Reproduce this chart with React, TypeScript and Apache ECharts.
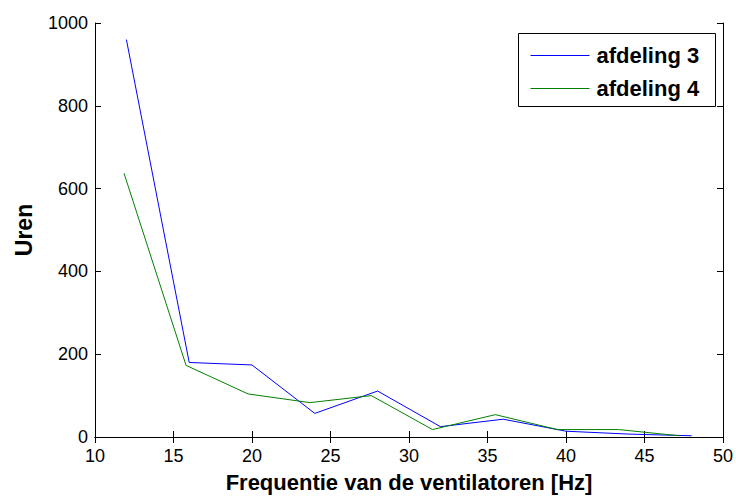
import React, { useEffect, useRef } from "react";
import * as echarts from "echarts";

const blueX = [12, 16, 20, 24, 28, 32, 36, 40, 44, 48];
const blueY = [960, 180, 174, 57, 111, 25, 43, 14, 7, 3];
const greenX = [11.85, 15.8, 19.75, 23.7, 27.6, 31.5, 35.5, 39.45, 43.35, 47.2];
const greenY = [637, 173, 104, 83, 100, 18, 54, 18, 18, 3];
const seriesNames = ["afdeling 3", "afdeling 4"];
const xTitle = "Frequentie van de ventilatoren [Hz]";
const yTitle = "Uren";

const FONT = "Arial, 'Liberation Sans', Helvetica, sans-serif";

export default function App() {
  const ref = useRef<HTMLDivElement>(null);
  useEffect(() => {
    const chart = echarts.init(ref.current!, null, { renderer: "svg" });
    const axisLine = { show: true, lineStyle: { color: "#000", width: 1 } };
    const axisTick = { show: true, inside: true, length: 6, lineStyle: { color: "#000" } };
    const blueData = blueX.map((x, i) => [x, blueY[i]]);
    const greenData = greenX.map((x, i) => [x, greenY[i]]);
    const plain = (v: number) => String(v);
    chart.setOption({
      animation: false,
      backgroundColor: "#fff",
      grid: { left: 95, top: 23, right: 12, bottom: 57, containLabel: false },
      xAxis: [
        {
          type: "value", min: 10, max: 50, interval: 5, position: "bottom",
          axisLine, axisTick, splitLine: { show: false },
          axisLabel: { color: "#000", fontSize: 18, fontFamily: FONT, margin: 10, formatter: plain },
          name: xTitle, nameLocation: "middle", nameGap: 34,
          nameTextStyle: { color: "#000", fontSize: 22, fontWeight: "bold", fontFamily: FONT },
        },
        {
          type: "value", min: 10, max: 50, interval: 5, position: "top",
          axisLine, axisTick, splitLine: { show: false }, axisLabel: { show: false },
        },
      ],
      yAxis: [
        {
          type: "value", min: 0, max: 1000, interval: 200, position: "left",
          axisLine, axisTick, splitLine: { show: false },
          axisLabel: { color: "#000", fontSize: 18, fontFamily: FONT, margin: 7, formatter: plain },
          name: yTitle, nameLocation: "middle", nameGap: 60,
          nameTextStyle: { color: "#000", fontSize: 23, fontWeight: "bold", fontFamily: FONT },
        },
        {
          type: "value", min: 0, max: 1000, interval: 200, position: "right",
          axisLine, axisTick, splitLine: { show: false }, axisLabel: { show: false },
        },
      ],
      series: [
        {
          name: seriesNames[0], type: "line", data: blueData, symbol: "none",
          lineStyle: { color: "#0000ff", width: 1 }, itemStyle: { color: "#0000ff" },
        },
        {
          name: seriesNames[1], type: "line", data: greenData, symbol: "none",
          lineStyle: { color: "#008000", width: 1 }, itemStyle: { color: "#008000" },
        },
      ],
      graphic: [
        {
          type: "group", left: 518, top: 33, z: 100,
          children: [
            { type: "rect", shape: { x: 0, y: 0, width: 197, height: 73 }, style: { fill: "#fff", stroke: "#000", lineWidth: 1 } },
            { type: "line", shape: { x1: 12, y1: 22, x2: 71, y2: 22 }, style: { stroke: "#0000ff", lineWidth: 1 } },
            { type: "line", shape: { x1: 12, y1: 55, x2: 71, y2: 55 }, style: { stroke: "#008000", lineWidth: 1 } },
            { type: "text", x: 78, y: 22, style: { text: seriesNames[0], fill: "#000", font: `bold 22px ${FONT}`, verticalAlign: "middle" } },
            { type: "text", x: 78, y: 55, style: { text: seriesNames[1], fill: "#000", font: `bold 22px ${FONT}`, verticalAlign: "middle" } },
          ],
        },
      ],
    });
    return () => chart.dispose();
  }, []);
  return <div ref={ref} style={{ position: "absolute", left: 0, top: 0, width: 736, height: 498 }} />;
}
